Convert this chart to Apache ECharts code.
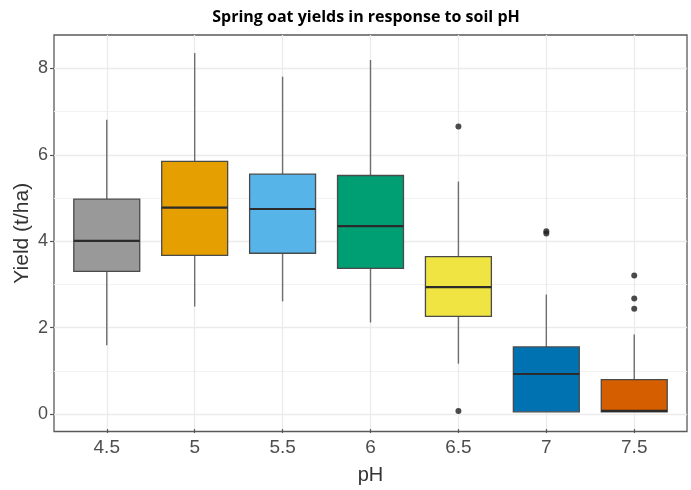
<!DOCTYPE html>
<html>
<head>
<meta charset="utf-8">
<script src="https://cdn.jsdelivr.net/npm/echarts@6/dist/echarts.min.js"></script>
<style>html,body{margin:0;padding:0;background:#fff;}#chart{width:691px;height:490px;}</style>
</head>
<body>
<div id="chart"></div>
<script>
// ---- data ----
var categories = ['4.5', '5', '5.5', '6', '6.5', '7', '7.5'];
var whiskerLow  = [1.55, 2.45, 2.57, 2.08, 1.12, 0.00, 0.00];
var q1Values    = [3.27, 3.64, 3.69, 3.34, 2.22, 0.00, 0.00];
var medians     = [3.98, 4.75, 4.72, 4.32, 2.90, 0.88, 0.02];
var q3Values    = [4.95, 5.83, 5.53, 5.50, 3.61, 1.51, 0.75];
var whiskerHigh = [6.80, 8.35, 7.80, 8.19, 5.36, 2.73, 1.80];
var outlierCats   = ['6.5', '6.5', '7', '7', '7.5', '7.5', '7.5'];
var outlierValues = [6.64, 0.02, 4.15, 4.20, 3.17, 2.64, 2.40];
var boxColors = ['#999999', '#E69F00', '#56B4E9', '#009E73', '#F0E442', '#0072B2', '#D55E00'];
var majorTicks = [0, 2, 4, 6, 8];
var minorGrid = [1, 3, 5, 7];
var yMin = -0.40, yMax = 8.77;

// ---- build ----
var boxData = categories.map(function (c, i) {
  return [i, whiskerLow[i], q1Values[i], medians[i], q3Values[i], whiskerHigh[i]];
});
var outlierData = outlierCats.map(function (c, i) {
  return [categories.indexOf(c), outlierValues[i]];
});

function renderBox(params, api) {
  var idx = api.value(0);
  var pMin = api.coord([idx, api.value(1)]);
  var pQ1 = api.coord([idx, api.value(2)]);
  var pMed = api.coord([idx, api.value(3)]);
  var pQ3 = api.coord([idx, api.value(4)]);
  var pMax = api.coord([idx, api.value(5)]);
  var band = api.size([1, 0])[0];
  var w = band * 0.75;
  var x0 = pMed[0] - w / 2;
  return {
    type: 'group',
    children: [
      { type: 'line', shape: { x1: pMin[0], y1: pMin[1], x2: pQ1[0], y2: pQ1[1] },
        style: { stroke: '#6e6e6e', lineWidth: 1.4 } },
      { type: 'line', shape: { x1: pQ3[0], y1: pQ3[1], x2: pMax[0], y2: pMax[1] },
        style: { stroke: '#6e6e6e', lineWidth: 1.4 } },
      { type: 'rect', shape: { x: x0, y: pQ3[1], width: w, height: pQ1[1] - pQ3[1] },
        style: { fill: boxColors[idx], stroke: '#4a4a4a', lineWidth: 1.3 } },
      { type: 'line', shape: { x1: x0, y1: pMed[1], x2: x0 + w, y2: pMed[1] },
        style: { stroke: '#2b2b2b', lineWidth: 2.2 } }
    ]
  };
}

var chart = echarts.init(document.getElementById('chart'), null, { renderer: 'canvas' });
var tickFont = 'Liberation Sans, Arial, sans-serif';
chart.setOption({
  animation: false,
  backgroundColor: '#ffffff',
  title: {
    text: 'Spring oat yields in response to soil pH',
    left: 361, top: 4, textAlign: 'center',
    textStyle: { fontFamily: 'Open Sans', fontWeight: 'bold', fontSize: 16, color: '#000' }
  },
  grid: [
    { left: 54, right: 4, top: 35, bottom: 58.5, show: true, borderColor: '#5a5a5a', borderWidth: 1.3, backgroundColor: 'transparent' },
    { left: 62.8, right: 12.8, top: 35, bottom: 58.5 },
    { left: 54, right: 4, top: 35, bottom: 58.5 }
  ],
  xAxis: [
    { gridIndex: 0, type: 'value', min: 0, max: 1, show: false },
    { gridIndex: 1, type: 'category', data: categories, boundaryGap: true,
      name: 'pH', nameLocation: 'middle', nameGap: 36, nameMoveOverlap: false,
      nameTextStyle: { fontFamily: tickFont, fontSize: 20, color: '#333' },
      axisLine: { show: false, onZero: false },
      axisTick: { show: true, alignWithLabel: true, length: 4, lineStyle: { color: '#555', width: 1.2 } },
      axisLabel: { margin: 9, fontFamily: tickFont, fontSize: 19, color: '#4d4d4d' },
      splitLine: { show: true, alignWithLabel: true, lineStyle: { color: '#ebebeb', width: 1.3 } }
    },
    { gridIndex: 2, type: 'value', min: 0, max: 1, show: false }
  ],
  yAxis: [
    { gridIndex: 0, type: 'value', min: yMin, max: yMax,
      name: 'Yield (t/ha)', nameLocation: 'middle', nameGap: 21, nameRotate: 90, nameMoveOverlap: false,
      nameTextStyle: { fontFamily: tickFont, fontSize: 21, color: '#333' },
      axisLine: { show: false, onZero: false },
      axisTick: { show: true, length: 4, lineStyle: { color: '#555', width: 1.2 },
        customValues: majorTicks },
      axisLabel: { margin: 6, fontFamily: tickFont, fontSize: 18, color: '#4d4d4d',
        customValues: majorTicks },
      splitLine: { show: true, lineStyle: { color: '#ebebeb', width: 1.3 } }
    },
    { gridIndex: 1, type: 'value', min: yMin, max: yMax, show: false, splitLine: { show: false } },
    { gridIndex: 2, type: 'value', min: yMin, max: yMax,
      axisLine: { show: false, onZero: false },
      axisTick: { show: false, customValues: minorGrid },
      axisLabel: { show: false, customValues: minorGrid },
      splitLine: { show: true, lineStyle: { color: '#f2f2f2', width: 1 } }
    }
  ],
  series: [
    { type: 'custom', xAxisIndex: 1, yAxisIndex: 1, renderItem: renderBox, data: boxData,
      encode: { x: 0, y: [1, 2, 3, 4, 5] }, z: 3 },
    { type: 'scatter', xAxisIndex: 1, yAxisIndex: 1, data: outlierData, symbolSize: 6,
      itemStyle: { color: '#1e1e1e' }, z: 4 }
  ]
});
</script>
</body>
</html>
